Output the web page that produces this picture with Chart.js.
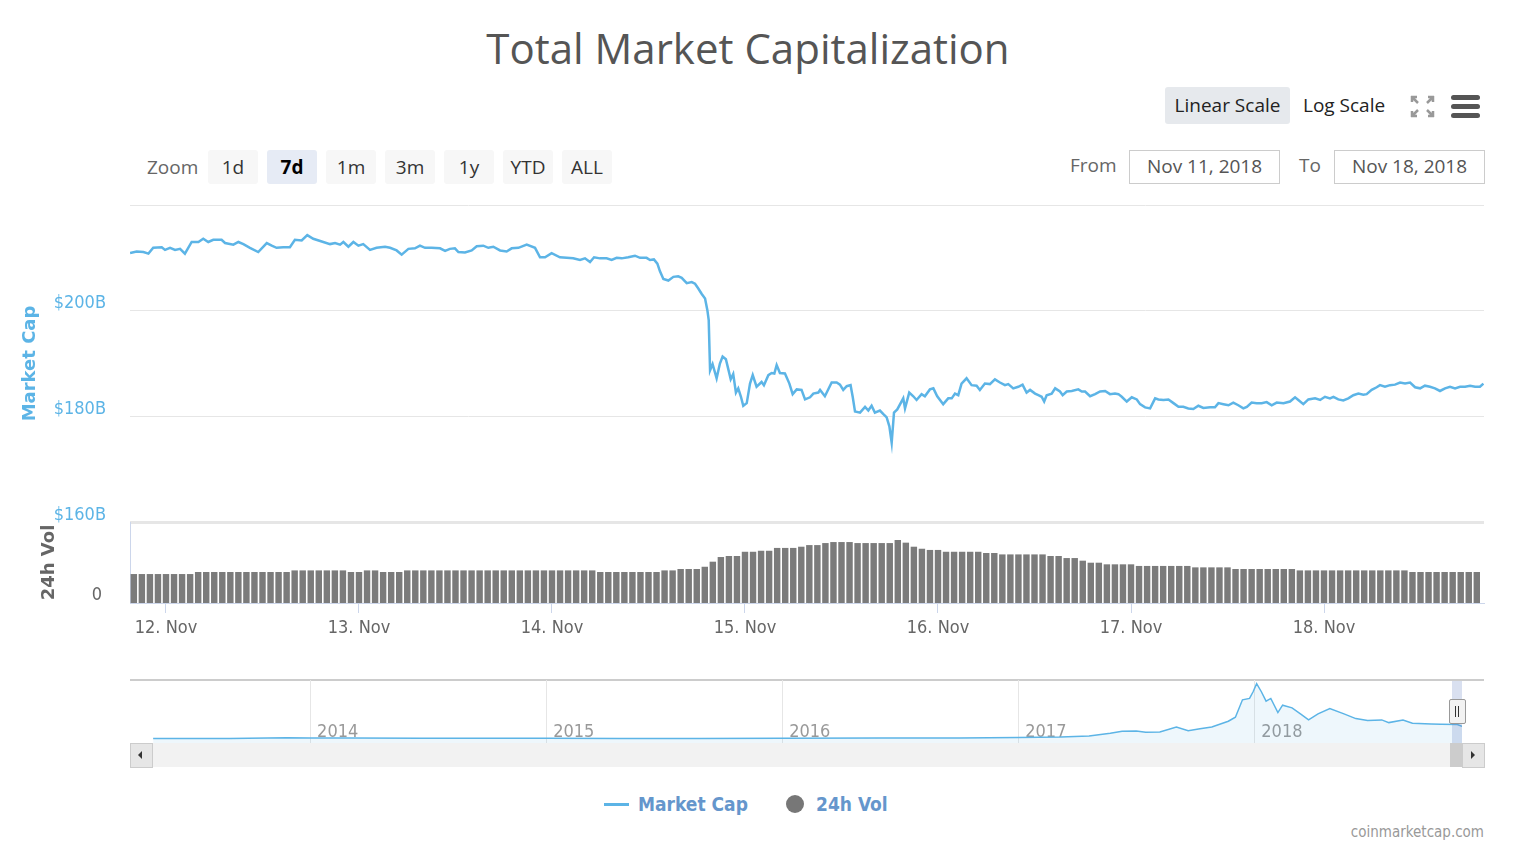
<!DOCTYPE html>
<html>
<head>
<meta charset="utf-8">
<title>Total Market Capitalization</title>
<script src="https://cdn.jsdelivr.net/npm/chart.js@4.4.1/dist/chart.umd.min.js"></script>
<style>
  html, body { margin: 0; padding: 0; background: #fff; }
  body { width: 1522px; height: 858px; position: relative; overflow: hidden; font-family: "Open Sans", sans-serif; }
  .abs { position: absolute; white-space: nowrap; }
  canvas { position: absolute; left: 0; }
  #title { left: 0; top: 20px; width: 1496px; height: 56px; line-height: 56px; text-align: center; font-size: 42px; color: #555; }
  .zbtn { top: 150px; width: 50px; height: 34px; line-height: 34px; text-align: center; background: #f7f7f7; border-radius: 3px; font-size: 19px; color: #333; }
  .zbtn.on { background: #e6ebf5; font-weight: bold; color: #000; }
  .lbl { font-size: 19px; color: #666; height: 34px; line-height: 34px; top: 148px; }
  .date { top: 150px; width: 149px; height: 32px; line-height: 30px; border: 1px solid #ccc; text-align: center; font-size: 19px; color: #555; }
  .burger span { position: absolute; left: 0; width: 29px; height: 5px; border-radius: 3px; background: #555; }
  .legend-txt { top: 791px; height: 26px; line-height: 26px; font-family: "DejaVu Sans Condensed", "DejaVu Sans", sans-serif; font-weight: bold; font-size: 19px; color: #6596cc; }
</style>
</head>
<body>
<div id="title" class="abs">Total Market Capitalization</div>

<div class="abs lbl" style="left:147px; top:150px;">Zoom</div>
<div class="abs zbtn" style="left:208px;">1d</div>
<div class="abs zbtn on" style="left:267px;">7d</div>
<div class="abs zbtn" style="left:326px;">1m</div>
<div class="abs zbtn" style="left:385px;">3m</div>
<div class="abs zbtn" style="left:444px;">1y</div>
<div class="abs zbtn" style="left:503px;">YTD</div>
<div class="abs zbtn" style="left:562px;">ALL</div>

<div class="abs" style="left:1165px; top:87px; width:125px; height:37px; line-height:37px; text-align:center; background:#e6e9ed; border-radius:3px; font-size:19px; color:#222;">Linear Scale</div>
<div class="abs" style="left:1303px; top:87px; height:37px; line-height:37px; font-size:19px; color:#222;">Log Scale</div>
<svg class="abs" style="left:1410px; top:95px;" width="25" height="23" viewBox="0 0 25 23">
  <g stroke="#999" stroke-width="2.5" fill="none">
    <path d="M2 2 L8 8 M1 2 L7 2 M2 1 L2 7"/>
    <path d="M23 2 L17 8 M24 2 L18 2 M23 1 L23 7"/>
    <path d="M2 21 L8 15 M1 21 L7 21 M2 22 L2 16"/>
    <path d="M23 21 L17 15 M24 21 L18 21 M23 22 L23 16"/>
  </g>
</svg>
<div class="abs burger" style="left:1451px; top:95px; width:29px; height:24px;">
  <span style="top:0;"></span><span style="top:9px;"></span><span style="top:18px;"></span>
</div>

<div class="abs lbl" style="left:1070px;">From</div>
<div class="abs date" style="left:1129px;">Nov 11, 2018</div>
<div class="abs lbl" style="left:1299px;">To</div>
<div class="abs date" style="left:1334px;">Nov 18, 2018</div>

<canvas id="mc_chart" width="1522" height="330" style="top:195px;"></canvas>
<canvas id="vol_chart" width="1522" height="130" style="top:512px;"></canvas>

<!-- navigator -->
<div class="abs" style="left:130px; top:679px; width:1354px; height:2px; background:#ccc;"></div>
<canvas id="nav_chart" width="1522" height="73" style="top:670px;"></canvas>
<div class="abs" style="left:1452px; top:681px; width:10px; height:62px; background:rgba(102,133,194,0.25);"></div>
<div class="abs" style="left:130px; top:743px; width:1354px; height:24px; background:#f2f2f2;"></div>
<div class="abs" style="left:130px; top:743px; width:21px; height:23px; background:#e6e6e6; border:1px solid #ccc;"></div>
<div class="abs" style="left:138px; top:751px; width:0; height:0; border-top:4px solid transparent; border-bottom:4px solid transparent; border-right:4px solid #333;"></div>
<div class="abs" style="left:1450px; top:743px; width:12px; height:24px; background:#ccc;"></div>
<div class="abs" style="left:1462px; top:743px; width:21px; height:23px; background:#e6e6e6; border:1px solid #ccc;"></div>
<div class="abs" style="left:1471px; top:751px; width:0; height:0; border-top:4px solid transparent; border-bottom:4px solid transparent; border-left:4px solid #333;"></div>
<div class="abs" style="left:1449px; top:699px; width:15px; height:23px; background:#f2f2f2; border:1px solid #999; border-radius:2px;">
  <div class="abs" style="left:5px; top:6px; width:1px; height:11px; background:#333;"></div>
  <div class="abs" style="left:8px; top:6px; width:1px; height:11px; background:#333;"></div>
</div>

<!-- legend -->
<div class="abs" style="left:604px; top:803px; width:25px; height:3px; background:#5cb4e6;"></div>
<div class="abs legend-txt" style="left:638px;">Market Cap</div>
<div class="abs" style="left:786px; top:795px; width:18px; height:18px; border-radius:50%; background:#777;"></div>
<div class="abs legend-txt" style="left:816px;">24h Vol</div>

<div class="abs" style="left:1284px; top:822px; width:200px; height:20px; line-height:20px; text-align:right; font-family:'DejaVu Sans Condensed','DejaVu Sans',sans-serif; font-size:15px; color:#999;">coinmarketcap.com</div>

<script>
// --- data (x = days since 11 Nov 2018 00:00) ---
const MC_DAYS = [
  0.814, 0.848, 0.883, 0.909, 0.934, 0.978, 0.995, 1.021, 1.047, 1.073, 1.098, 1.133,
  1.168, 1.193, 1.219, 1.245, 1.288, 1.306, 1.349, 1.375, 1.401, 1.435, 1.478, 1.522,
  1.548, 1.573, 1.608, 1.642, 1.668, 1.703, 1.732, 1.763, 1.807, 1.850, 1.876, 1.902,
  1.919, 1.945, 1.971, 1.997, 2.022, 2.057, 2.091, 2.135, 2.161, 2.195, 2.221, 2.256,
  2.290, 2.316, 2.342, 2.376, 2.420, 2.446, 2.471, 2.497, 2.515, 2.549, 2.584, 2.610,
  2.644, 2.670, 2.696, 2.731, 2.765, 2.791, 2.826, 2.869, 2.912, 2.938, 2.964, 2.998,
  3.041, 3.076, 3.110,
  3.145, 3.171, 3.197, 3.218, 3.249, 3.283, 3.309, 3.335, 3.361, 3.395, 3.430, 3.456,
  3.490, 3.508, 3.528, 3.546, 3.559, 3.577, 3.603, 3.629, 3.654, 3.672, 3.698, 3.724,
  3.741, 3.758, 3.775, 3.793, 3.805, 3.812, 3.819, 3.832, 3.853, 3.870, 3.884, 3.901,
  3.915, 3.926, 3.939, 3.953, 3.965, 3.979, 3.991, 4.009, 4.026, 4.040, 4.060, 4.086,
  4.098, 4.121, 4.138, 4.152, 4.164, 4.181, 4.207, 4.230, 4.247, 4.268, 4.293, 4.311,
  4.337, 4.354, 4.380, 4.389, 4.414, 4.449, 4.475, 4.492, 4.509, 4.527, 4.547, 4.558,
  4.570, 4.596, 4.622, 4.639, 4.656, 4.673, 4.699, 4.717, 4.734, 4.748, 4.760, 4.772,
  4.789, 4.820, 4.829, 4.851, 4.872, 4.889, 4.915, 4.932, 4.958, 4.976, 4.996, 5.027,
  5.053, 5.071, 5.088, 5.105, 5.122, 5.148, 5.174, 5.200, 5.217, 5.243, 5.269, 5.295,
  5.321, 5.347, 5.364, 5.390, 5.416, 5.438, 5.459,
  5.477, 5.503, 5.520, 5.537, 5.550, 5.563, 5.589, 5.607, 5.632, 5.646, 5.667, 5.693,
  5.727, 5.745, 5.762, 5.788, 5.814, 5.840, 5.866, 5.891, 5.917, 5.935, 5.952, 5.978,
  6.004, 6.030, 6.047, 6.073, 6.099, 6.125, 6.142, 6.168, 6.194, 6.220, 6.246, 6.271,
  6.297, 6.323, 6.349, 6.375, 6.410, 6.435, 6.453, 6.479, 6.505, 6.530, 6.556, 6.582,
  6.600, 6.625, 6.651, 6.677, 6.703, 6.729, 6.755, 6.790, 6.824, 6.850, 6.867, 6.893,
  6.919, 6.954, 6.980, 7.005, 7.031, 7.049, 7.074, 7.100, 7.126, 7.152, 7.178, 7.204,
  7.221, 7.247, 7.273, 7.290, 7.316, 7.342, 7.368, 7.394, 7.420, 7.446, 7.472, 7.498,
  7.523, 7.549, 7.575, 7.601, 7.627, 7.653, 7.679, 7.705, 7.731, 7.757, 7.783, 7.808,
  7.826
];
const MC_VALUES = [
  210.9, 211.2, 211.1, 210.8, 211.9, 212.0, 211.5, 211.9, 211.5, 211.7, 210.8, 213.0,
  213.0, 213.6, 213.0, 213.4, 213.4, 212.8, 212.5, 213.0, 212.6, 211.9, 211.1, 212.8,
  212.3, 211.9, 212.0, 212.0, 213.4, 213.3, 214.3, 213.6, 213.1, 212.6, 212.8, 212.5,
  213.0, 212.1, 213.0, 212.3, 212.6, 211.5, 211.9, 212.1, 211.9, 211.4, 210.6, 211.7,
  211.8, 212.3, 211.9, 211.9, 211.8, 211.3, 211.7, 211.8, 211.1, 211.0, 211.4, 212.2,
  212.3, 211.9, 212.1, 211.4, 211.2, 211.8, 211.9, 212.5, 211.9, 210.1, 210.1, 210.9,
  210.1, 210.0, 209.9,
  209.6, 209.9, 209.2, 210.1, 209.9, 209.9, 209.6, 210.0, 209.9, 210.1, 210.4, 210.0,
  210.0, 209.6, 209.7, 208.9, 207.5, 206.0, 205.7, 206.4, 206.5, 206.2, 205.2, 205.4,
  205.1, 204.2, 203.2, 202.3, 200.1, 198.2, 188.7, 189.9, 187.2, 190.0, 191.3, 190.8,
  188.7, 187.0, 188.0, 184.5, 185.3, 183.7, 182.0, 182.5, 186.2, 187.8, 185.6, 186.5,
  185.9, 187.8, 188.2, 188.1, 189.7, 188.2, 188.1, 186.2, 184.2, 185.1, 185.0, 183.2,
  183.6, 184.3, 184.5, 185.0, 183.8, 186.4, 186.4, 186.0, 185.0, 185.7, 185.9, 183.7,
  180.9, 180.7, 181.8, 181.1, 182.0, 180.7, 181.1, 180.4, 179.8, 178.1, 175.0, 180.7,
  181.3, 183.4, 181.5, 184.5, 183.8, 183.1, 184.2, 183.8, 185.1, 185.3, 183.8, 182.3,
  183.4, 183.4, 184.3, 184.0, 186.2, 187.2, 185.9, 185.8, 185.0, 186.2, 186.1, 187.0,
  186.4, 185.9, 186.1, 185.3, 185.6, 186.0, 184.5,
  185.0, 184.3, 184.0, 183.7, 182.8, 184.0, 184.3, 185.3, 184.7, 184.0, 184.7, 184.8,
  185.1, 184.7, 184.7, 183.8, 184.2, 184.7, 184.8, 184.2, 184.3, 184.2, 183.7, 182.8,
  183.6, 183.2, 182.3, 181.7, 181.5, 183.4, 183.2, 183.1, 183.2, 182.5, 181.8, 181.8,
  181.5, 181.4, 182.0, 181.6, 181.7, 181.7, 182.5, 182.3, 182.1, 182.6, 182.1, 181.5,
  181.8, 182.6, 182.5, 182.5, 182.7, 182.1, 182.6, 182.5, 182.8, 183.6, 183.1, 182.3,
  183.2, 183.4, 183.1, 183.7, 183.4, 183.7, 183.2, 183.0, 183.4, 184.0, 184.3, 184.1,
  184.2, 185.0, 185.5, 185.9, 185.6, 185.9, 186.0, 186.4, 186.2, 186.4, 185.5, 185.3,
  185.8, 185.6, 185.3, 184.8, 185.3, 185.6, 185.3, 185.6, 185.6, 185.8, 185.6, 185.6,
  186.2
];
const MC_TICK_VALUES = [160, 180, 200];
const MC_TICK_LABELS = ["$160B", "$180B", "$200B"];

// hourly 24h volume ($B), first bar at 11 Nov 20:00
const VOL_START_HOUR = 20;
const VOL_VALUES = [
  14.3, 14.3, 14.3, 14.3, 14.3, 14.3, 14.3, 14.3, 15.3, 15.3, 15.3, 15.3,
  15.3, 15.3, 15.3, 15.3, 15.3, 15.3, 15.3, 15.3, 16.1, 16.1, 16.1, 16.1,
  16.1, 16.1, 16.1, 15.3, 15.3, 16.1, 16.1, 15.3, 15.3, 15.3, 16.1, 16.1,
  16.1, 16.1, 16.1, 16.1, 16.1, 16.1, 16.1, 16.1, 16.1, 16.1, 16.1, 16.1,
  16.1, 16.1, 16.1, 16.1, 16.1, 16.1, 16.1, 16.1, 16.1, 16.1, 15.3, 15.3,
  15.3, 15.3, 15.3, 15.3, 15.3, 15.3, 16.1, 16.1, 16.8, 16.8, 16.8, 17.9,
  20.4, 22.7, 23.2, 23.2, 25.3, 25.3, 25.8, 25.8, 27.2, 27.2, 27.2, 27.8,
  28.6, 28.6, 29.6, 30.1, 30.1, 30.1, 29.6, 29.6, 29.6, 29.6, 29.6, 31.1,
  29.8, 27.8, 26.8, 26.2, 26.2, 25.3, 25.3, 25.3, 25.3, 25.3, 24.7, 24.7,
  24.0, 24.0, 24.0, 24.0, 24.0, 24.0, 23.2, 23.2, 22.2, 22.2, 20.9, 19.9,
  19.9, 19.1, 19.1, 19.1, 19.1, 18.3, 18.3, 18.3, 18.3, 18.3, 18.3, 18.3,
  17.6, 17.6, 17.6, 17.6, 17.6, 16.8, 16.8, 16.8, 16.8, 16.8, 16.8, 16.8,
  16.8, 16.1, 16.1, 16.1, 16.1, 16.1, 16.1, 16.1, 16.1, 16.1, 16.1, 16.1,
  16.1, 16.1, 16.1, 15.3, 15.3, 15.3, 15.3, 15.3, 15.3, 15.3, 15.3, 15.3
];
const DAY_LABELS = ["12. Nov", "13. Nov", "14. Nov", "15. Nov", "16. Nov", "17. Nov", "18. Nov"];

// navigator: full history (decimal year, $B)
const NAV_YEARS = [
  2013.335, 2013.66, 2013.90, 2014.0, 2014.17, 2014.47, 2015.0, 2015.31, 2015.65, 2016.0,
  2016.42, 2016.75, 2017.0, 2017.18, 2017.30, 2017.39, 2017.44, 2017.50, 2017.54, 2017.60,
  2017.67, 2017.72, 2017.77, 2017.82, 2017.89, 2017.92, 2017.95, 2017.98, 2017.995, 2018.01,
  2018.03, 2018.05, 2018.07, 2018.10, 2018.12, 2018.16, 2018.20, 2018.23, 2018.27, 2018.32,
  2018.38, 2018.43, 2018.48, 2018.54, 2018.57, 2018.63, 2018.67, 2018.75, 2018.79, 2018.86,
  2018.88
];
const NAV_VALUES = [
  2, 2, 14, 10, 9, 8, 6, 4, 4, 7,
  10, 12, 18, 25, 40, 80, 110, 115, 95, 100,
  175, 120, 150, 175, 260, 320, 580, 600, 700, 820,
  700, 560, 600, 390, 500, 460, 360, 280, 370, 450,
  370, 300, 270, 280, 240, 280, 230, 220, 215, 210,
  185
];
const NAV_TICK_VALUES = [2014, 2015, 2016, 2017, 2018];
const NAV_TICK_LABELS = ["2014", "2015", "2016", "2017", "2018"];

const LINE_BLUE = "#5cb4e6";
const GRID = "#e6e6e6";
const AXIS_BLUE = "#ccd6eb";
const FONT_AXIS = "'DejaVu Sans Condensed', 'DejaVu Sans', sans-serif";
const X_MIN = 0.8135;
const X_MAX = 7.829;

const baseOpts = {
  responsive: false,
  animation: false,
  events: [],
  plugins: { legend: { display: false }, tooltip: { enabled: false } },
};

// y axes: fixed 130px gutter, no extra label padding on top/bottom
function fitYAxis(s) {
  s.width = 130;
  s.paddingTop = 0;
  s.paddingBottom = 0;
}

function renderMarketCapChart() {
  const points = MC_DAYS.map((d, i) => ({ x: d, y: MC_VALUES[i] }));
  new Chart(document.getElementById("mc_chart"), {
    type: "line",
    data: {
      datasets: [
        {
          label: "Market Cap",
          data: points,
          borderColor: LINE_BLUE,
          borderWidth: 2.5,
          pointRadius: 0,
          tension: 0,
        },
      ],
    },
    options: {
      ...baseOpts,
      layout: { padding: { top: 10, right: 38, bottom: 3, left: 0 } },
      scales: {
        x: { type: "linear", min: X_MIN, max: X_MAX, display: false },
        y: {
          min: 160,
          max: 220,
          afterFit: fitYAxis,
          grid: {
            color: GRID,
            lineWidth: (c) => (c.tick && c.tick.value === 160 ? 3 : 1),
            drawTicks: false,
          },
          border: { display: false },
          ticks: {
            stepSize: 20,
            labelOffset: -7,
            padding: 24,
            color: LINE_BLUE,
            font: { family: FONT_AXIS, size: 18 },
            callback: (v) => MC_TICK_LABELS[MC_TICK_VALUES.indexOf(v)] || "",
          },
          title: {
            display: true,
            text: "Market Cap",
            color: LINE_BLUE,
            font: { family: "'DejaVu Sans', sans-serif", size: 18, weight: "bold" },
            padding: { top: 20, bottom: 0 },
          },
        },
      },
    },
  });
}

function renderVolumeChart() {
  const bars = VOL_VALUES.map((v, i) => ({ x: (VOL_START_HOUR + i) / 24, y: v }));
  new Chart(document.getElementById("vol_chart"), {
    type: "bar",
    data: {
      datasets: [
        {
          label: "24h Vol",
          data: bars,
          backgroundColor: "#7b7b7b",
          borderWidth: 0,
          barPercentage: 0.8,
          categoryPercentage: 1,
        },
      ],
    },
    options: {
      ...baseOpts,
      layout: { padding: { top: 10, right: 38, bottom: 0, left: 0 } },
      scales: {
        x: {
          type: "linear",
          min: X_MIN,
          max: X_MAX,
          offset: false,
          afterFit: (s) => { s.height = 39; s.paddingLeft = 0; s.paddingRight = 0; },
          grid: { offset: false, drawOnChartArea: false, color: AXIS_BLUE, tickLength: 10 },
          border: { color: AXIS_BLUE },
          ticks: {
            stepSize: 1,
            includeBounds: false,
            autoSkip: false,
            maxRotation: 0,
            padding: 5,
            color: "#666",
            font: { family: FONT_AXIS, size: 18 },
            callback: (v) => DAY_LABELS[v - 1] || "",
          },
        },
        y: {
          min: 0,
          max: 40,
          afterFit: fitYAxis,
          grid: { display: false, drawTicks: false },
          border: { color: AXIS_BLUE },
          ticks: {
            stepSize: 40,
            labelOffset: -8,
            padding: 28,
            color: "#666",
            font: { family: FONT_AXIS, size: 18 },
            callback: (v) => (v === 0 ? "0" : ""),
          },
          title: {
            display: true,
            text: "24h Vol",
            color: "#666",
            font: { family: "'DejaVu Sans', sans-serif", size: 18, weight: "bold" },
            padding: { top: 39, bottom: 0 },
          },
        },
      },
    },
  });
}

function renderNavigatorChart() {
  const points = NAV_YEARS.map((t, i) => ({ x: t, y: NAV_VALUES[i] }));
  new Chart(document.getElementById("nav_chart"), {
    type: "line",
    data: {
      datasets: [
        {
          data: points,
          borderColor: LINE_BLUE,
          borderWidth: 1.5,
          backgroundColor: "rgba(92,180,230,0.1)",
          fill: "start",
          pointRadius: 0,
          tension: 0,
        },
      ],
    },
    options: {
      ...baseOpts,
      layout: { padding: { top: 10, right: 60, bottom: 0, left: 130 } },
      scales: {
        x: {
          type: "linear",
          min: 2013.237,
          max: 2018.88,
          afterFit: (s) => { s.height = 0; s.paddingLeft = 0; s.paddingRight = 0; },
          grid: { color: GRID, drawTicks: false },
          border: { display: false },
          ticks: {
            stepSize: 1,
            includeBounds: false,
            autoSkip: false,
            maxRotation: 0,
            mirror: true, // draw the year labels inside the plot, unclipped
            align: "start",
            labelOffset: 7,
            padding: 0,
            color: "#999",
            font: { family: FONT_AXIS, size: 18 },
            callback: (v) => NAV_TICK_LABELS[NAV_TICK_VALUES.indexOf(v)] || "",
          },
        },
        y: { display: false, min: -64, max: 875 },
      },
    },
  });
}

renderMarketCapChart();
renderVolumeChart();
renderNavigatorChart();
</script>
</body>
</html>
